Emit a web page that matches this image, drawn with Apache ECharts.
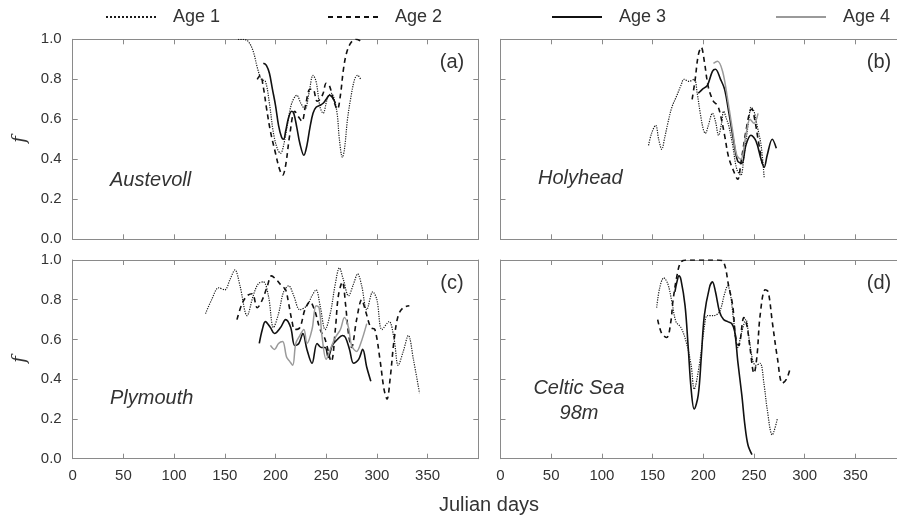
<!DOCTYPE html>
<html>
<head>
<meta charset="utf-8">
<script src="https://cdn.jsdelivr.net/npm/echarts@6/dist/echarts.min.js"></script>
<style>
  html, body { margin: 0; padding: 0; background: #fff; }
  #chart { width: 897px; height: 517px; }
</style>
</head>
<body>
<div id="chart"></div>
<script>
// ---- data (Julian day, f) ----
const ages = ['Age 1', 'Age 2', 'Age 3', 'Age 4']
const xTicks = [0, 50, 100, 150, 200, 250, 300, 350]

// (a) Austevoll
const austAge1Days = [163, 168, 173, 178, 182, 186, 190, 194, 198, 202, 205, 208, 212, 216, 221, 225, 229, 233, 237, 240, 244, 247, 251, 255, 258, 261, 263, 266, 268, 271, 274, 278, 281, 284]
const austAge1F = [1.0, 1.0, 0.99, 0.94, 0.86, 0.80, 0.79, 0.68, 0.53, 0.45, 0.43, 0.47, 0.58, 0.68, 0.72, 0.68, 0.65, 0.73, 0.82, 0.79, 0.66, 0.63, 0.70, 0.73, 0.70, 0.62, 0.50, 0.41, 0.45, 0.60, 0.70, 0.80, 0.82, 0.80]
const austAge2Days = [182, 185, 188, 191, 195, 200, 204, 207, 210, 214, 219, 223, 226, 230, 234, 237, 241, 244, 247, 250, 253, 257, 261, 264, 267, 270, 274, 279, 285]
const austAge2F = [0.80, 0.82, 0.76, 0.66, 0.54, 0.43, 0.35, 0.32, 0.37, 0.52, 0.64, 0.61, 0.59, 0.68, 0.75, 0.75, 0.69, 0.70, 0.73, 0.78, 0.77, 0.70, 0.65, 0.72, 0.85, 0.93, 0.98, 1.0, 0.99]
const austAge3Days = [188, 191, 194, 197, 200, 203, 206, 208, 210, 213, 216, 218, 221, 224, 228, 231, 234, 237, 240, 244, 247, 250, 253, 256, 259]
const austAge3F = [0.88, 0.87, 0.83, 0.75, 0.67, 0.57, 0.51, 0.50, 0.54, 0.61, 0.64, 0.63, 0.56, 0.48, 0.42, 0.47, 0.56, 0.63, 0.66, 0.67, 0.68, 0.70, 0.72, 0.71, 0.68]

// (b) Holyhead
const holyAge1Days = [146, 149, 153, 156, 159, 162, 165, 169, 174, 178, 181, 186, 191, 194, 197, 200, 202, 205, 209, 212, 215, 218, 220, 223, 225, 229, 233, 237, 240, 242, 245, 247, 250, 253, 257, 260]
const holyAge1F = [0.47, 0.53, 0.57, 0.50, 0.45, 0.51, 0.58, 0.66, 0.72, 0.77, 0.80, 0.79, 0.80, 0.73, 0.63, 0.55, 0.53, 0.57, 0.63, 0.59, 0.52, 0.58, 0.64, 0.60, 0.57, 0.47, 0.35, 0.32, 0.41, 0.49, 0.60, 0.66, 0.64, 0.57, 0.47, 0.31]
const holyAge2Days = [189, 192, 195, 198, 201, 205, 210, 214, 217, 221, 225, 230, 234, 237, 242, 246, 248, 251, 254, 258]
const holyAge2F = [0.70, 0.80, 0.92, 0.96, 0.89, 0.76, 0.69, 0.67, 0.62, 0.52, 0.41, 0.34, 0.30, 0.38, 0.54, 0.64, 0.65, 0.59, 0.50, 0.38]
const holyAge3Days = [195, 199, 204, 209, 212, 217, 221, 225, 230, 234, 238, 242, 247, 252, 257, 260, 263, 268, 272]
const holyAge3F = [0.73, 0.75, 0.77, 0.84, 0.85, 0.80, 0.75, 0.64, 0.49, 0.39, 0.38, 0.47, 0.52, 0.49, 0.40, 0.36, 0.42, 0.50, 0.455]
const holyAge4Days = [210, 214, 219, 224, 229, 233, 237, 242, 246, 250, 254]
const holyAge4F = [0.88, 0.89, 0.84, 0.70, 0.54, 0.42, 0.40, 0.52, 0.60, 0.58, 0.63]

// (c) Plymouth
const plyAge1Days = [131, 137, 144, 150, 155, 160, 165, 172, 178, 183, 188, 193, 198, 203, 208, 213, 218, 224, 231, 236, 240, 244, 249, 254, 259, 263, 267, 272, 277, 281, 285, 290, 296, 300, 305, 312, 317, 321, 326, 331, 336, 342]
const plyAge1F = [0.73, 0.80, 0.86, 0.85, 0.90, 0.95, 0.87, 0.72, 0.82, 0.88, 0.89, 0.82, 0.66, 0.73, 0.84, 0.87, 0.82, 0.75, 0.77, 0.82, 0.85, 0.77, 0.65, 0.73, 0.88, 0.96, 0.90, 0.82, 0.88, 0.93, 0.87, 0.75, 0.84, 0.80, 0.65, 0.69, 0.60, 0.47, 0.54, 0.62, 0.50, 0.33]
const plyAge2Days = [162, 167, 172, 177, 182, 187, 192, 196, 201, 206, 210, 213, 216, 219, 224, 229, 234, 239, 244, 249, 255, 259, 262, 266, 269, 272, 275, 280, 285, 289, 294, 298, 303, 307, 310, 313, 317, 321, 326, 332]
const plyAge2F = [0.70, 0.78, 0.82, 0.83, 0.76, 0.80, 0.87, 0.92, 0.90, 0.87, 0.85, 0.78, 0.70, 0.65, 0.66, 0.75, 0.79, 0.74, 0.65, 0.60, 0.49, 0.65, 0.82, 0.89, 0.78, 0.63, 0.56, 0.70, 0.80, 0.74, 0.66, 0.65, 0.50, 0.35, 0.30, 0.40, 0.60, 0.72, 0.76, 0.77]
const plyAge3Days = [184, 187, 190, 195, 199, 205, 210, 215, 219, 223, 227, 231, 236, 241, 245, 249, 252, 256, 261, 266, 269, 273, 277, 282, 286, 290, 294]
const plyAge3F = [0.58, 0.65, 0.69, 0.66, 0.63, 0.66, 0.70, 0.66, 0.57, 0.58, 0.63, 0.55, 0.48, 0.58, 0.56, 0.56, 0.51, 0.57, 0.60, 0.62, 0.61, 0.55, 0.48, 0.50, 0.55, 0.46, 0.39]
const plyAge4Days = [195, 199, 203, 207, 211, 214, 217, 220, 224, 228, 231, 236, 240, 243, 246, 250, 254, 259, 264, 268, 272, 275, 280, 284, 290]
const plyAge4F = [0.57, 0.55, 0.58, 0.59, 0.51, 0.49, 0.47, 0.58, 0.62, 0.65, 0.58, 0.65, 0.77, 0.76, 0.61, 0.50, 0.55, 0.61, 0.65, 0.71, 0.66, 0.57, 0.54, 0.58, 0.68]

// (d) Celtic Sea 98m
const celtAge1Days = [154, 157, 161, 165, 169, 173, 178, 183, 188, 191, 196, 201, 204, 210, 216, 221, 224, 227, 230, 234, 238, 242, 245, 249, 252, 256, 260, 263, 268, 273]
const celtAge1F = [0.76, 0.86, 0.91, 0.88, 0.79, 0.69, 0.66, 0.59, 0.47, 0.35, 0.47, 0.66, 0.72, 0.72, 0.74, 0.83, 0.87, 0.82, 0.69, 0.56, 0.64, 0.70, 0.61, 0.49, 0.47, 0.48, 0.37, 0.25, 0.12, 0.20]
const celtAge2Days = [155, 159, 164, 168, 170, 174, 178, 184, 197, 214, 220, 225, 229, 232, 235, 240, 243, 246, 250, 253, 256, 261, 264, 268, 273, 278, 282, 286]
const celtAge2F = [0.70, 0.63, 0.61, 0.69, 0.79, 0.92, 0.99, 1.0, 1.0, 1.0, 0.99, 0.87, 0.77, 0.61, 0.57, 0.71, 0.67, 0.56, 0.43, 0.52, 0.72, 0.85, 0.84, 0.69, 0.51, 0.38, 0.40, 0.46]
const celtAge3Days = [172, 174, 176, 178, 182, 185, 188, 191, 195, 198, 201, 206, 209, 212, 216, 220, 224, 228, 231, 234, 238, 241, 244, 248]
const celtAge3F = [0.84, 0.89, 0.92, 0.90, 0.77, 0.57, 0.35, 0.25, 0.32, 0.51, 0.72, 0.86, 0.89, 0.84, 0.74, 0.70, 0.69, 0.68, 0.64, 0.49, 0.32, 0.17, 0.07, 0.02]

// ---- layout ----
const FONT = '"Liberation Sans", Arial, sans-serif'
const AXIS_COLOR = '#8a8a8a'
const TEXT_COLOR = '#333'

const grids = [
  { left: 72.7, top: 39.3, width: 405.6, height: 200 },   // (a)
  { left: 500.5, top: 39.3, width: 405.6, height: 200 },  // (b)
  { left: 72.7, top: 260, width: 405.6, height: 198.7 },  // (c)
  { left: 500.5, top: 260, width: 405.6, height: 198.7 }  // (d)
]

const panels = [
  [[austAge1Days, austAge1F], [austAge2Days, austAge2F], [austAge3Days, austAge3F], null],
  [[holyAge1Days, holyAge1F], [holyAge2Days, holyAge2F], [holyAge3Days, holyAge3F], [holyAge4Days, holyAge4F]],
  [[plyAge1Days, plyAge1F], [plyAge2Days, plyAge2F], [plyAge3Days, plyAge3F], [plyAge4Days, plyAge4F]],
  [[celtAge1Days, celtAge1F], [celtAge2Days, celtAge2F], [celtAge3Days, celtAge3F], null]
]

const ageStyles = [
  { type: 'dotted', width: 1.2, color: '#1a1a1a' },
  { type: [5, 4], width: 1.6, color: '#111' },
  { type: 'solid', width: 1.6, color: '#111' },
  { type: 'solid', width: 1.5, color: '#9a9a9a' }
]

const tickStyle = { show: true, inside: true, length: 5, lineStyle: { color: AXIS_COLOR } }
const lineStyle = { show: true, onZero: false, lineStyle: { color: AXIS_COLOR, width: 1 } }

const xAxis = []
const yAxis = []
grids.forEach((g, i) => {
  const bottomRow = i >= 2
  const leftCol = i % 2 === 0
  xAxis.push({
    gridIndex: i, type: 'value', min: 0, max: 400, interval: 50,
    axisLine: lineStyle, axisTick: tickStyle, splitLine: { show: false },
    axisLabel: {
      show: bottomRow, margin: 10, fontSize: 15, color: TEXT_COLOR, fontFamily: FONT,
      formatter: v => (xTicks.indexOf(v) >= 0 ? String(v) : '')
    }
  })
  xAxis.push({
    gridIndex: i, type: 'value', min: 0, max: 400, interval: 50, position: 'top',
    axisLine: lineStyle, axisTick: tickStyle, splitLine: { show: false }, axisLabel: { show: false }
  })
  yAxis.push({
    gridIndex: i, type: 'value', min: 0, max: 1, interval: 0.2,
    axisLine: lineStyle, axisTick: tickStyle, splitLine: { show: false },
    axisLabel: {
      show: leftCol, margin: 11, fontSize: 15, color: TEXT_COLOR, fontFamily: FONT,
      formatter: v => v.toFixed(1)
    },
    name: leftCol ? 'f' : '', nameLocation: 'middle', nameGap: 43, nameRotate: 90,
    nameTextStyle: { fontFamily: '"DejaVu Serif", serif', fontStyle: 'italic', fontSize: 18, color: TEXT_COLOR }
  })
  yAxis.push({
    gridIndex: i, type: 'value', min: 0, max: 1, interval: 0.2, position: 'right',
    axisLine: lineStyle, axisTick: tickStyle, splitLine: { show: false }, axisLabel: { show: false }
  })
})

const series = []
panels.forEach((curves, i) => {
  curves.forEach((c, a) => {
    if (!c) return
    series.push({
      name: ages[a], type: 'line', xAxisIndex: 2 * i, yAxisIndex: 2 * i,
      data: c[0].map((d, k) => [d, c[1][k]]),
      smooth: 0.35, symbol: 'none', silent: true,
      lineStyle: ageStyles[a], itemStyle: { color: ageStyles[a].color }
    })
  })
})

const legendLeft = [100, 322, 546, 770]
const legend = ages.map((name, i) => ({
  data: [name], left: legendLeft[i], top: 3, itemWidth: 50, itemHeight: 16,
  selectedMode: false,
  itemStyle: { opacity: 0 },
  textStyle: { fontSize: 18, color: TEXT_COLOR, fontFamily: FONT, padding: [0, 0, 0, 12] }
}))

function label(text, x, y, opts) {
  return {
    type: 'text', silent: true,
    style: Object.assign({
      text, x, y, fill: TEXT_COLOR, font: '20px ' + FONT,
      textAlign: 'left', textVerticalAlign: 'middle'
    }, opts || {})
  }
}

const graphic = [
  label('(a)', 452, 62, { textAlign: 'center' }),
  label('(b)', 879, 62, { textAlign: 'center' }),
  label('(c)', 452, 283, { textAlign: 'center' }),
  label('(d)', 879, 283, { textAlign: 'center' }),
  label('Austevoll', 110, 180, { font: 'italic 20px ' + FONT }),
  label('Holyhead', 538, 178, { font: 'italic 20px ' + FONT }),
  label('Plymouth', 110, 398, { font: 'italic 20px ' + FONT }),
  label('Celtic Sea', 579, 388, { font: 'italic 20px ' + FONT, textAlign: 'center' }),
  label('98m', 579, 413, { font: 'italic 20px ' + FONT, textAlign: 'center' }),
  label('Julian days', 489, 505, { font: '20px ' + FONT, textAlign: 'center' })
]

const chart = echarts.init(document.getElementById('chart'), null, { renderer: 'canvas' })
chart.setOption({
  animation: false,
  backgroundColor: '#fff',
  grid: grids.map(g => Object.assign({ outerBoundsMode: 'none', containLabel: false }, g)),
  xAxis, yAxis, series, legend, graphic
})
</script>
</body>
</html>
